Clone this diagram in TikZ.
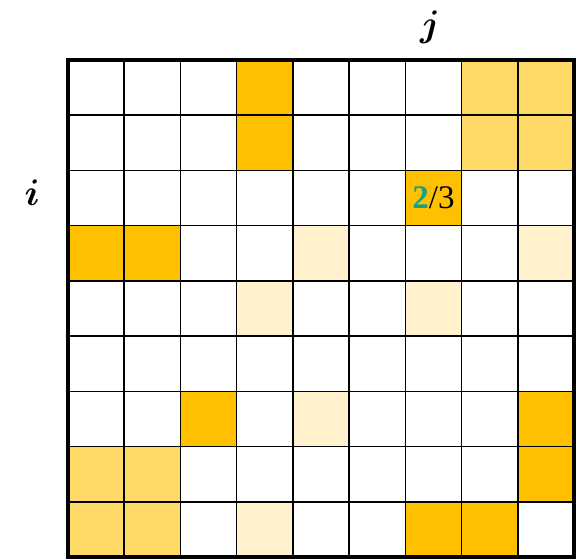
\documentclass[tikz,border=0pt]{standalone}
\usepackage{fix-cm}
\usepackage{amsmath}
\usepackage{bm}
\usepackage{fontspec}
\newfontfamily\cellfont{Liberation Serif}
\usetikzlibrary{positioning}
\definecolor{cellgold}{HTML}{FFC000}
\definecolor{cellsand}{HTML}{FFD966}
\definecolor{cellcream}{HTML}{FFF2CC}
\definecolor{cellteal}{HTML}{15A088}

\begin{document}
\begin{tikzpicture}[
  x=56.22pt,
  y=-55.22pt,
  gridline/.style={
    draw=black,
    line width=1.6pt
  },
  gridframe/.style={
    draw=black,
    line width=4.5pt
  },
  axislabel/.style={
    scale=3.7,
    inner sep=0pt
  }
]
  \useasboundingbox (-1.2095,-1.0866) rectangle (9.1426,9.0366);

  % Shaded cells: row / column / colour
  \foreach \r/\c/\col in {
      1/4/cellgold, 1/8/cellsand, 1/9/cellsand,
      2/4/cellgold, 2/8/cellsand, 2/9/cellsand,
      3/7/cellgold,
      4/1/cellgold, 4/2/cellgold, 4/5/cellcream, 4/9/cellcream,
      5/4/cellcream, 5/7/cellcream,
      7/3/cellgold, 7/5/cellcream, 7/9/cellgold,
      8/1/cellsand, 8/2/cellsand, 8/9/cellgold,
      9/1/cellsand, 9/2/cellsand, 9/4/cellcream, 9/7/cellgold, 9/8/cellgold}
    \fill[\col] (\c-1,\r-1) rectangle (\c,\r);

  % Grid lines
  \foreach \k in {1,...,8} {
    \draw[gridline] (\k,0) -- (\k,9);
    \draw[gridline] (0,\k) -- (9,\k);
  }
  \draw[gridframe] (0,0) rectangle (9,9);

  % Cell entry
  \node[font=\cellfont\fontsize{33pt}{36pt}\selectfont, inner sep=0pt] (entry) at (6.5,2.5)
    {\textbf{\color{cellteal}2}/3};

  % Axis labels
  \node[axislabel] (jlabel) at (6.44,-0.6) {$\boldsymbol{j}$};
  \node[axislabel] (ilabel) at (-0.64,2.4) {$\boldsymbol{i}$};

\end{tikzpicture}
\end{document}
